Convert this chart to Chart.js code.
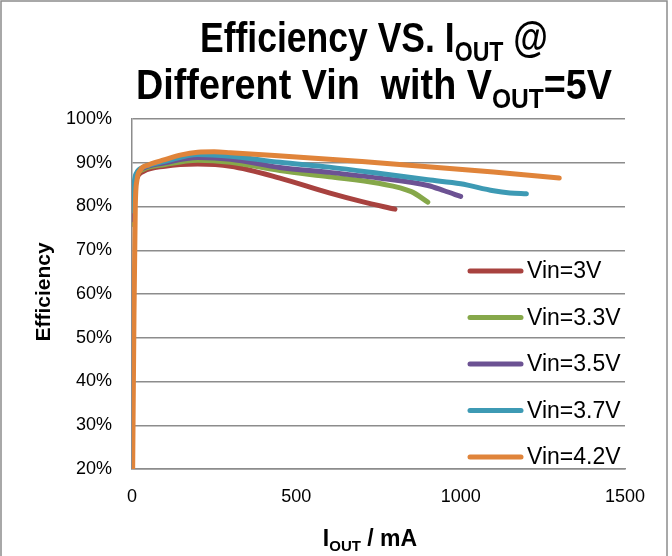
<!DOCTYPE html>
<html>
<head>
<meta charset="utf-8">
<script src="https://cdn.jsdelivr.net/npm/chart.js@4/dist/chart.umd.min.js"></script>
<style>
  body { margin: 0; background: #fff; }
</style>
</head>
<body>
<canvas id="chart" width="672" height="556"></canvas>
<script>
// series names and colours
const seriesNames = ['Vin=3V', 'Vin=3.3V', 'Vin=3.5V', 'Vin=3.7V', 'Vin=4.2V'];
const seriesColors = ['#a8423f', '#86a84a', '#6c5293', '#3d9ab4', '#e0843a'];

// Iout (mA) / efficiency (%)
const ioutVin30 = [2, 8, 15, 35, 100, 200, 300, 450, 600, 700, 800];
const effVin30  = [76, 84, 86.5, 88, 89.2, 89.7, 89.2, 86.5, 83.1, 81.1, 79.4];

const ioutVin33 = [2, 8, 15, 35, 100, 200, 300, 450, 600, 750, 850, 900];
const effVin33  = [76, 84, 87, 88.5, 89.6, 90.6, 90.1, 88.2, 86.8, 85.3, 83.4, 81];

const ioutVin35 = [2, 8, 15, 35, 100, 200, 300, 450, 600, 750, 900, 950, 1000];
const effVin35  = [77, 85, 87.5, 88.8, 90, 91.2, 90.8, 88.9, 87.8, 86.5, 84.8, 83.6, 82.3];

const ioutVin37 = [2, 8, 15, 35, 100, 200, 300, 450, 600, 750, 900, 1000, 1100, 1150, 1200];
const effVin37  = [79, 86, 87.8, 89, 90.3, 91.9, 91.5, 90.1, 89, 87.6, 86.1, 85.2, 83.6, 83.1, 82.9];

const ioutVin42 = [2, 6, 10, 15, 25, 50, 100, 150, 200, 250, 300, 500, 700, 900, 1100, 1300];
const effVin42  = [20, 55, 80, 86, 88.3, 89.5, 90.7, 91.8, 92.4, 92.5, 92.3, 91.3, 90.3, 89.1, 87.9, 86.5];

// axis ticks
const xTicks = [0, 500, 1000, 1500];
const yTicks = [20, 30, 40, 50, 60, 70, 80, 90, 100];

const ioutSets = [ioutVin30, ioutVin33, ioutVin35, ioutVin37, ioutVin42];
const effSets = [effVin30, effVin33, effVin35, effVin37, effVin42];

const FONT = '"Liberation Sans", Arial, sans-serif';
const GRID = '#8c8c8c';

// text with "OUT" subscripts, centred on cx; squeezed to width w if given
function drawRich(ctx, parts, cx, y, size, w) {
    const subSize = Math.round(size * 0.65);
    let total = 0;
    parts.forEach(p => {
        ctx.font = 'bold ' + (p[1] ? subSize : size) + 'px ' + FONT;
        total += ctx.measureText(p[0]).width;
    });
    const sx = w ? w / total : 1;
    ctx.save();
    ctx.translate(cx - total * sx / 2, y);
    ctx.scale(sx, 1);
    ctx.textBaseline = 'alphabetic';
    ctx.textAlign = 'left';
    let x = 0;
    parts.forEach(p => {
        ctx.font = 'bold ' + (p[1] ? subSize : size) + 'px ' + FONT;
        ctx.fillText(p[0], x, p[1] ? size * 0.2 : 0);
        x += ctx.measureText(p[0]).width;
    });
    ctx.restore();
}

const decorPlugin = {
    id: 'decor',
    afterDraw(chart) {
        const ctx = chart.ctx;
        ctx.save();
        // frame
        ctx.strokeStyle = GRID;
        ctx.lineWidth = 1.5;
        ctx.strokeRect(1, 1, 666, 600);

        ctx.fillStyle = '#000';
        drawRich(ctx, [['Efficiency VS. I', 0], ['OUT', 1], [' @', 0]], 374, 52, 43, 348);
        drawRich(ctx, [['Different Vin  with V', 0], ['OUT', 1], ['=5V', 0]], 374, 99, 43, 476);
        drawRich(ctx, [['I', 0], ['OUT', 1], [' / mA', 0]], 370, 546, 23);

        // y title
        ctx.save();
        ctx.translate(44, 292);
        ctx.rotate(-Math.PI / 2);
        ctx.font = 'bold 21px ' + FONT;
        ctx.textAlign = 'center';
        ctx.textBaseline = 'middle';
        ctx.fillText('Efficiency', 0, 0);
        ctx.restore();

        // legend
        chart.data.datasets.forEach((ds, i) => {
            const y = 271 + i * 46.5;
            ctx.strokeStyle = ds.borderColor;
            ctx.lineWidth = 5;
            ctx.lineCap = 'round';
            ctx.beginPath();
            ctx.moveTo(470, y);
            ctx.lineTo(521, y);
            ctx.stroke();
            ctx.fillStyle = '#000';
            ctx.font = '23px ' + FONT;
            ctx.textAlign = 'left';
            ctx.textBaseline = 'middle';
            ctx.fillText(ds.label, 527, y + 1);
        });
        ctx.restore();
    }
};

new Chart(document.getElementById('chart'), {
    type: 'line',
    data: {
        datasets: seriesNames.map((name, i) => ({
            label: name,
            data: ioutSets[i].map((v, j) => ({ x: v, y: effSets[i][j] })),
            borderColor: seriesColors[i],
            borderWidth: 5,
            borderCapStyle: 'round',
            borderJoinStyle: 'round',
            pointRadius: 0,
            cubicInterpolationMode: 'monotone',
            order: seriesNames.length - i, // 4.2V on top
            fill: false
        }))
    },
    options: {
        responsive: false,
        animation: false,
        layout: { padding: { top: 119, right: 47, bottom: 0, left: 0 } },
        plugins: {
            legend: { display: false },
            title: { display: false },
            tooltip: { enabled: false }
        },
        scales: {
            x: {
                type: 'linear',
                min: 0,
                max: 1500,
                afterFit: s => { s.height = 87; },
                afterBuildTicks: s => { s.ticks = xTicks.map(v => ({ value: v })); },
                grid: { display: false, drawTicks: false },
                border: { display: true, color: GRID, width: 1.5 },
                ticks: {
                    padding: 17,
                    color: '#000',
                    font: { family: FONT, size: 18 },
                    callback: v => String(v)
                }
            },
            y: {
                min: 20,
                max: 100,
                afterFit: s => { s.width = 132; },
                afterBuildTicks: s => { s.ticks = yTicks.map(v => ({ value: v })); },
                grid: { color: GRID, lineWidth: 1.5, drawTicks: false },
                border: { display: true, color: GRID, width: 1.5 },
                ticks: {
                    padding: 20,
                    color: '#000',
                    font: { family: FONT, size: 18 },
                    callback: v => v + '%'
                }
            }
        }
    },
    plugins: [decorPlugin]
});
</script>
</body>
</html>
